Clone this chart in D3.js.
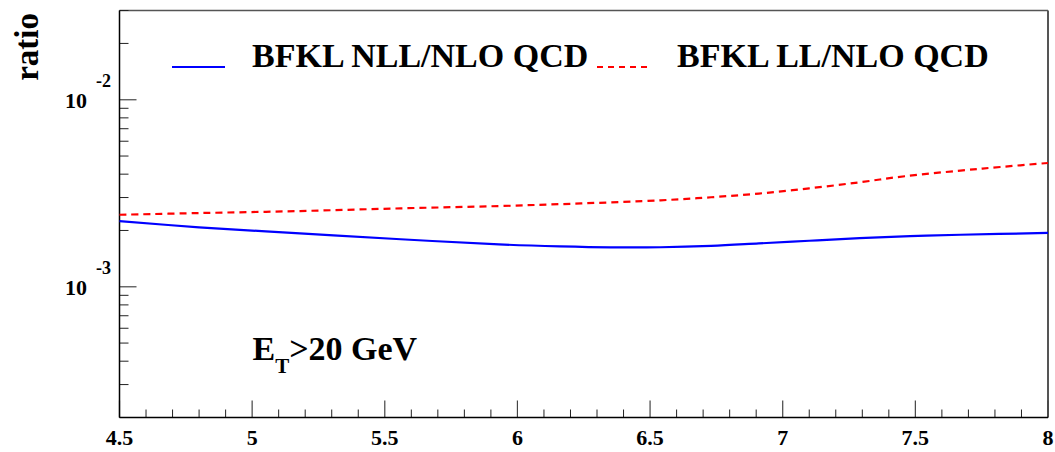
<!DOCTYPE html>
<html>
<head>
<meta charset="utf-8">
<script src="https://cdn.jsdelivr.net/npm/d3@7"></script>
<style>
html,body{margin:0;padding:0;background:#fff;}
svg{display:block;}
</style>
</head>
<body>
<svg id="chart" width="1055" height="452"></svg>
<script>
// ---- data ----
const xDomain = [4.5, 8];
const yDomain = [2e-4, 3e-2];
const xTickLabels = ["4.5", "5", "5.5", "6", "6.5", "7", "7.5", "8"];
const xMajorTicks = [4.5, 5, 5.5, 6, 6.5, 7, 7.5, 8];
const yMajorTicks = [1e-3, 1e-2];
const yMajorExponents = ["-3", "-2"];

const nllX = [4.5, 4.8, 5.18, 5.56, 5.93, 6.16, 6.35, 6.54, 6.73, 6.91, 7.1, 7.29, 7.48, 7.67, 8.0];
const nllRatio = [2.245e-3, 2.08e-3, 1.93e-3, 1.795e-3, 1.685e-3, 1.645e-3, 1.625e-3, 1.627e-3, 1.655e-3, 1.705e-3, 1.762e-3, 1.818e-3, 1.865e-3, 1.897e-3, 1.94e-3];

const llX = [4.5, 4.8, 5.18, 5.56, 5.93, 6.24, 6.54, 6.73, 6.91, 7.1, 7.29, 7.46, 7.67, 7.82, 8.0];
const llRatio = [2.427e-3, 2.478e-3, 2.540e-3, 2.626e-3, 2.701e-3, 2.79e-3, 2.90e-3, 3.01e-3, 3.15e-3, 3.36e-3, 3.62e-3, 3.90e-3, 4.18e-3, 4.37e-3, 4.59e-3];

const legendLabels = ["BFKL NLL/NLO QCD", "BFKL LL/NLO QCD"];
const yTitle = "ratio";

// ---- layout ----
const FONT = "'Liberation Serif', Tinos, 'Times New Roman', 'Nimbus Roman', 'DejaVu Serif', 'Noto Serif', serif";
const L = 119.5, R = 1048, T = 10.5, B = 417.5;
const svg = d3.select("#chart").attr("font-family", FONT).attr("font-weight", "bold");
const x = d3.scaleLinear().domain(xDomain).range([L, R]);
const y = d3.scaleLog().domain(yDomain).range([B, T]);

function txt(sel) { return sel.append("text").attr("font-family", FONT).attr("font-weight", "bold").attr("fill", "#000"); }

// frame
svg.append("line").attr("x1", L).attr("x2", R).attr("y1", T).attr("y2", T).attr("stroke", "#555").attr("stroke-width", 1.5);
svg.append("line").attr("x1", R).attr("x2", R).attr("y1", T).attr("y2", B).attr("stroke", "#555").attr("stroke-width", 2);

// x axis ticks
const xMinor = d3.range(45, 81).map(d => d / 10).filter(d => !xMajorTicks.some(m => Math.abs(m - d) < 1e-9));
const gx = svg.append("g");
gx.selectAll("line.minor").data(xMinor).enter().append("line")
  .attr("x1", d => x(d)).attr("x2", d => x(d)).attr("y1", B).attr("y2", B - 8)
  .attr("stroke", "#222").attr("stroke-width", 1);
gx.selectAll("line.major").data(xMajorTicks).enter().append("line")
  .attr("x1", d => x(d)).attr("x2", d => x(d)).attr("y1", B).attr("y2", B - 17)
  .attr("stroke", "#444").attr("stroke-width", 1.2);
xMajorTicks.forEach((d, i) => {
  txt(gx).attr("x", x(d)).attr("y", 445).attr("text-anchor", "middle")
    .attr("font-size", 22).text(xTickLabels[i]);
});

// y axis ticks
const yMinor = [];
[1e-4, 1e-3, 1e-2].forEach(dec => { for (let k = 2; k <= 9; k++) { const v = k * dec; if (v >= yDomain[0] - 1e-12 && v <= yDomain[1] + 1e-12) yMinor.push(v); } });
const gy = svg.append("g");
gy.selectAll("line.minor").data(yMinor).enter().append("line")
  .attr("x1", L).attr("x2", L + 9).attr("y1", d => y(d)).attr("y2", d => y(d))
  .attr("stroke", "#222").attr("stroke-width", 1);
gy.selectAll("line.major").data(yMajorTicks).enter().append("line")
  .attr("x1", L).attr("x2", L + 17).attr("y1", d => y(d)).attr("y2", d => y(d))
  .attr("stroke", "#555").attr("stroke-width", 1.3);
yMajorTicks.forEach((d, i) => {
  txt(gy).attr("x", 65).attr("y", y(d) + 8.5).attr("font-size", 22).text("10");
  txt(gy).attr("x", 96).attr("y", y(d) - 12.5).attr("font-size", 18).text(yMajorExponents[i]);
});

// axis lines
svg.append("line").attr("x1", L).attr("x2", R).attr("y1", B).attr("y2", B).attr("stroke", "#000").attr("stroke-width", 1.5);
svg.append("line").attr("x1", L).attr("x2", L).attr("y1", T).attr("y2", B).attr("stroke", "#000").attr("stroke-width", 1.5);

// y title
txt(svg).attr("transform", "translate(38,13) rotate(-90)").attr("text-anchor", "end")
  .attr("font-size", 33).text(yTitle);

// curves
const line = d3.line().curve(d3.curveCatmullRom.alpha(0.5));
svg.append("path").attr("d", line(llX.map((d, i) => [x(d), y(llRatio[i])])))
  .attr("fill", "none").attr("stroke", "#ff0000").attr("stroke-width", 2.2).attr("stroke-dasharray", "7,5");
svg.append("path").attr("d", line(nllX.map((d, i) => [x(d), y(nllRatio[i])])))
  .attr("fill", "none").attr("stroke", "#0000ff").attr("stroke-width", 2.2);

// legend
svg.append("line").attr("x1", 172).attr("x2", 225).attr("y1", 67).attr("y2", 67).attr("stroke", "#0000ff").attr("stroke-width", 2.2);
txt(svg).attr("x", 252).attr("y", 67).attr("font-size", 34).text(legendLabels[0]);
svg.append("line").attr("x1", 597).attr("x2", 651).attr("y1", 67).attr("y2", 67).attr("stroke", "#ff0000").attr("stroke-width", 2).attr("stroke-dasharray", "6,5");
txt(svg).attr("x", 677).attr("y", 67).attr("font-size", 34).text(legendLabels[1]);

// annotation E_T > 20 GeV
const ann = txt(svg).attr("x", 252.5).attr("y", 359.5).attr("font-size", 34);
ann.append("tspan").text("E");
ann.append("tspan").attr("dy", 13).attr("font-size", 21).text("T");
ann.append("tspan").attr("dy", -13).text(">20 GeV");
</script>
</body>
</html>
